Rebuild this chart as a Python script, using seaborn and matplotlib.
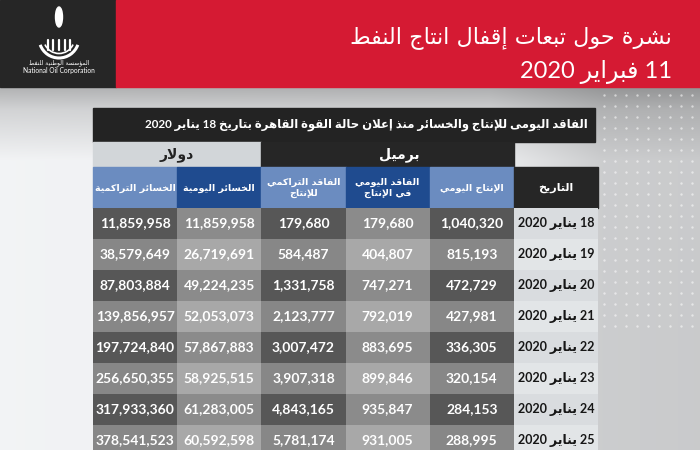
import numpy as np
import pandas as pd
import matplotlib.pyplot as plt
import seaborn as sns
from matplotlib.patches import Rectangle, Arc, Ellipse
from matplotlib.colors import ListedColormap

dates = ['18 يناير 2020', '19 يناير 2020', '20 يناير 2020', '21 يناير 2020',
         '22 يناير 2020', '23 يناير 2020', '24 يناير 2020', '25 يناير 2020']
daily_production = [1040320, 815193, 472729, 427981, 336305, 320154, 284153, 288995]
daily_lost = [179680, 404807, 747271, 792019, 883695, 899846, 935847, 931005]
cumulative_lost = [179680, 584487, 1331758, 2123777, 3007472, 3907318, 4843165, 5781174]
daily_losses_usd = [11859958, 26719691, 49224235, 52053073, 57867883, 58925515, 61283005, 60592598]
cumulative_losses_usd = [11859958, 38579649, 87803884, 139856957, 197724840,
                         256650355, 317933360, 378541523]

title_1 = 'نشرة حول تبعات إقفال انتاج النفط'
title_2 = '11 فبراير 2020'
subtitle = 'الفاقد اليومى للإنتاج والخسائر منذ إعلان حالة القوة القاهرة بتاريخ 18 يناير 2020'
group_labels = ['دولار', 'برميل']
col_labels = ['الخسائر التراكمية', 'الخسائر اليومية', 'الفاقد التراكمي\nللإنتاج',
              'الفاقد اليومي\nفي الإنتاج', 'الإنتاج اليومي', 'التاريخ']

# ---- minimal arabic shaping (matplotlib has no bidi / joining) ----
_ar = [('ء', 0xFE80, 1), ('آ', 0xFE81, 2), ('أ', 0xFE83, 2), ('ؤ', 0xFE85, 2), ('إ', 0xFE87, 2),
       ('ئ', 0xFE89, 4), ('ا', 0xFE8D, 2), ('ب', 0xFE8F, 4), ('ة', 0xFE93, 2), ('ت', 0xFE95, 4),
       ('ث', 0xFE99, 4), ('ج', 0xFE9D, 4), ('ح', 0xFEA1, 4), ('خ', 0xFEA5, 4), ('د', 0xFEA9, 2),
       ('ذ', 0xFEAB, 2), ('ر', 0xFEAD, 2), ('ز', 0xFEAF, 2), ('س', 0xFEB1, 4), ('ش', 0xFEB5, 4),
       ('ص', 0xFEB9, 4), ('ض', 0xFEBD, 4), ('ط', 0xFEC1, 4), ('ظ', 0xFEC5, 4), ('ع', 0xFEC9, 4),
       ('غ', 0xFECD, 4), ('ف', 0xFED1, 4), ('ق', 0xFED5, 4), ('ك', 0xFED9, 4), ('ل', 0xFEDD, 4),
       ('م', 0xFEE1, 4), ('ن', 0xFEE5, 4), ('ه', 0xFEE9, 4), ('و', 0xFEED, 2), ('ى', 0xFEEF, 2),
       ('ي', 0xFEF1, 4)]
FORMS = {c: [chr(s + i) for i in range(n)] for c, s, n in _ar}
LAM_ALEF = {'آ': 0xFEF5, 'أ': 0xFEF7, 'إ': 0xFEF9, 'ا': 0xFEFB}


def shape_word(w):
    out, prev, i = [], False, 0
    while i < len(w):
        c = w[i]
        nxt = w[i + 1] if i + 1 < len(w) else ''
        if c == 'ل' and nxt in LAM_ALEF:
            out.append(chr(LAM_ALEF[nxt] + (1 if prev else 0)))
            prev = False
            i += 2
            continue
        f = FORMS.get(c)
        if f is None:
            out.append(c)
            prev = False
        else:
            link = len(f) == 4 and len(FORMS.get(nxt, [])) > 1
            if len(f) == 1:
                out.append(f[0])
            elif len(f) == 2:
                out.append(f[1] if prev else f[0])
            else:
                out.append(f[[0, 2, 1, 3][2 * prev + link]])
            prev = len(f) == 4
        i += 1
    return ''.join(out)


def ar(text):
    lines = []
    for line in text.split('\n'):
        words = []
        for w in line.split(' '):
            if any('\u0600' <= ch <= '\u06ff' for ch in w):
                w = shape_word(w)[::-1]
            words.append(w)
        lines.append(' '.join(words[::-1]))
    return '\n'.join(lines)


sns.set_theme(style='white')
plt.rcParams['font.family'] = ['Lato', 'DejaVu Sans']
MIX = ['Lato', 'DejaVu Sans']

fig = plt.figure(figsize=(7, 4.5), dpi=100)
ax = fig.add_axes([0, 0, 1, 1])
ax.set_xlim(0, 700)
ax.set_ylim(450, 0)
ax.axis('off')

# background: light on the left, grey on the right, shaded under the banner
xs = np.linspace(0, 1, 350)
ys = np.linspace(0, 1, 180)
horiz = np.interp(xs, [0, 0.7, 0.86, 1], [0.95, 0.93, 0.80, 0.79])
vert = np.interp(ys, [0, 0.06, 0.2, 1], [0.72, 0.86, 1.0, 1.0])
bg = np.clip(horiz[None, :] * vert[:, None] + (1 - vert[:, None]) * 0.05, 0, 1)
ax.imshow(np.dstack([bg, bg * 1.005, bg * 1.012]).clip(0, 1),
          extent=(0, 700, 450, 87), aspect='auto', interpolation='bilinear')
gx, gy = np.meshgrid(np.arange(604, 700, 11), np.arange(95, 330, 11))
ax.scatter(gx.ravel(), gy.ravel(), s=3, color='white', alpha=0.55, linewidths=0)

# banner
ax.add_patch(Rectangle((0, 0), 116, 87, color='#262626'))
ax.add_patch(Rectangle((116, 0), 584, 87, color='#d51a33'))
ax.text(672, 38, ar(title_1), ha='right', va='center', color='white', fontsize=16,
        family='DejaVu Sans')
ax.text(672, 72, ar(title_2), ha='right', va='center', color='white', fontsize=17,
        family=MIX)

# logo
ax.add_patch(Ellipse((59, 17), 7, 20, color='white'))
ax.add_patch(Arc((59, 38), 40, 40, theta1=20, theta2=160, color='white', lw=2.2))
ax.add_patch(Arc((59, 38), 31, 31, theta1=25, theta2=155, color='white', lw=1.2))
for bx in [48, 53, 59, 65, 70]:
    ax.plot([bx, bx], [40, 50], color='white', lw=1.6)
ax.text(59, 63, ar('المؤسسة الوطنية للنفط'), ha='center', va='center', color='white',
        fontsize=4.3, family='DejaVu Sans')
ax.text(59, 71, 'National Oil Corporation', ha='center', va='center', color='white',
        fontsize=4.8)

# subtitle bar and group headers
ax.add_patch(Rectangle((93, 108), 502, 34, color='#232323'))
ax.text(588, 125, ar(subtitle), ha='right', va='center', color='white', fontsize=8.4,
        fontweight='bold', family=MIX)

edges = np.linspace(93, 598, 7)
ax.add_patch(Rectangle((edges[0], 142), edges[2] - edges[0], 25, color='#d2d6d9'))
ax.add_patch(Rectangle((edges[2], 142), edges[5] - edges[2], 25, color='#262626'))
ax.text((edges[0] + edges[2]) / 2, 154.5, ar(group_labels[0]), ha='center', va='center',
        color='#222222', fontsize=10, fontweight='bold', family='DejaVu Sans')
ax.text((edges[2] + edges[5]) / 2 + 12, 154.5, ar(group_labels[1]), ha='center', va='center',
        color='white', fontsize=10, fontweight='bold', family='DejaVu Sans')

head_colors = ['#6b8cc0', '#1f4b8f', '#6b8cc0', '#1f4b8f', '#6b8cc0', '#262626']
for k, (lab, col) in enumerate(zip(col_labels, head_colors)):
    ax.add_patch(Rectangle((edges[k], 167), edges[k + 1] - edges[k], 41, color=col))
    ax.text((edges[k] + edges[k + 1]) / 2, 188, ar(lab), ha='center', va='center',
            color='white', fontsize=6.8 if k < 5 else 8, fontweight='bold',
            family='DejaVu Sans', linespacing=1.3)

# table body as a heatmap: five value columns + the date column
table = pd.DataFrame({
    'cum_usd': cumulative_losses_usd,
    'day_usd': daily_losses_usd,
    'cum_bbl': cumulative_lost,
    'day_bbl': daily_lost,
    'prod': daily_production,
})
annot = table.map(lambda v: f'{v:,}')
annot['date'] = [ar(d) for d in dates]

n_rows = len(dates)
shade = np.zeros((n_rows, 6))
for i in range(n_rows):
    for j in range(5):
        shade[i, j] = 2 * (i % 2) + (j % 2)
    shade[i, 5] = 4 + (i % 2)
cell_cmap = ListedColormap(['#575757', '#8b8b8b', '#878787', '#a8a8a8', '#d9dcdf', '#e2e5e7'])

row_h = 31
ax2 = fig.add_axes([93 / 700, (450 - 208 - row_h * n_rows) / 450, 505 / 700, row_h * n_rows / 450])
sns.heatmap(shade, ax=ax2, cmap=cell_cmap, vmin=-0.5, vmax=5.5, cbar=False,
            annot=annot.values, fmt='', xticklabels=False, yticklabels=False,
            annot_kws={'fontsize': 10, 'fontweight': 'bold', 'family': MIX})
for t in ax2.texts:
    t.set_color('white')
for t in ax2.texts[5::6]:
    t.set_color('#161616')
    t.set_fontsize(9)

fig.savefig('out.png', dpi=100)
